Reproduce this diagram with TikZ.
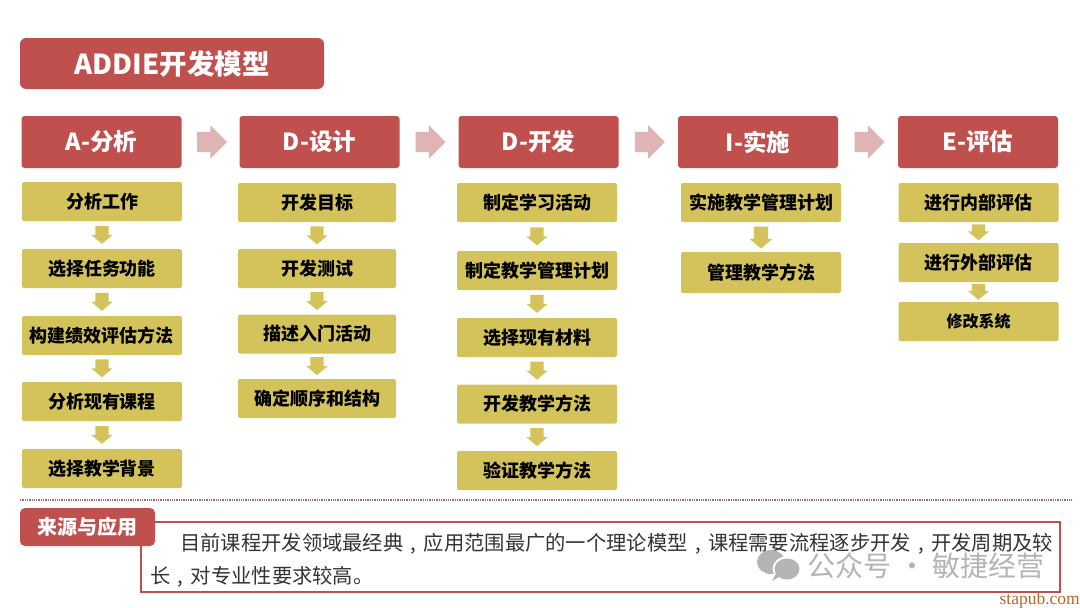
\documentclass[tikz,border=0pt]{standalone}
\usepackage{fontspec}
\setmainfont{Noto Sans CJK SC}
\newfontfamily\serifmark{Liberation Serif}
\usepackage{xcolor}
\usetikzlibrary{arrows.meta,calc,positioning,shapes.arrows}
\definecolor{addieRed}{HTML}{C0504D}
\definecolor{addieYellow}{HTML}{D4C35A}
\definecolor{addiePink}{HTML}{DFB4B5}
\definecolor{markGray}{HTML}{B4B4B4}
\definecolor{siteBrown}{HTML}{B8672A}
\newcommand{\fpx}[1]{\fontsize{#1}{#1}\selectfont}
\newcommand{\zhcomma}{\makebox[1em][c]{,}}
\tikzset{
  titlebox/.style={fill=addieRed,rounded corners=6pt,text=white,font=\fpx{27.5}\bfseries,inner sep=0,minimum width=304,minimum height=51},
  headbox/.style={fill=addieRed,rounded corners=3pt,text=white,font=\fpx{23.5}\bfseries,inner sep=0,minimum width=160,minimum height=52},
  stepbox/.style={fill=addieYellow,rounded corners=2pt,text=black,font=\fpx{18}\bfseries,inner sep=0,minimum width=160,minimum height=39},
  nextarrow/.style={single arrow,fill=addiePink,inner xsep=0,inner ysep=10,minimum width=33,minimum height=30,single arrow head extend=6.5,single arrow tip angle=90},
  downarrow/.style={single arrow,shape border rotate=270,fill=addieYellow,inner ysep=0,inner xsep=6.5,minimum width=21,minimum height=18,single arrow head extend=4,single arrow tip angle=100},
}
\begin{document}
\begin{tikzpicture}[x=1pt,y=-1pt]
\useasboundingbox (0,0) rectangle (1080,608);
\node[titlebox] (title) at (172,63.5) {ADDIE开发模型};
% column heads
\node[headbox] (hA) at (101.5,142) {A-分析};
\node[headbox] (hD) at (319.5,142) {D-设计};
\node[headbox] (hV) at (538.5,142) {D-开发};
\node[headbox] (hI) at (758,142) {I-实施};
\node[headbox] (hE) at (978,142) {E-评估};
\foreach \a/\b in {hA/hD,hD/hV,hV/hI,hI/hE}
  \node[nextarrow] (\a\b) at ($(\a)!0.5!(\b)+(-3.5,0)$) {};
% A
\node[stepbox] (a1) at (102,201.5) {分析工作};
\node[stepbox] (a2) at (102,268.5) {选择任务功能};
\node[stepbox] (a3) at (102,335.5) {构建绩效评估方法};
\node[stepbox] (a4) at (102,401.5) {分析现有课程};
\node[stepbox] (a5) at (102,468.5) {选择教学背景};
\foreach \a/\b in {a1/a2,a2/a3,a3/a4,a4/a5}
  \node[downarrow] (\a\b) at ($(\a)!0.5!(\b)+(0,-3)$) {};
% D
\node[stepbox,minimum width=158] (d1) at (317,202.5) {开发目标};
\node[stepbox,minimum width=158] (d2) at (317,268.5) {开发测试};
\node[stepbox,minimum width=158] (d3) at (317,334) {描述入门活动};
\node[stepbox,minimum width=158] (d4) at (317,398.5) {确定顺序和结构};
\foreach \a/\b in {d1/d2,d2/d3,d3/d4}
  \node[downarrow] (\a\b) at ($(\a)!0.5!(\b)+(0,-3)$) {};
% D
\node[stepbox] (v1) at (537,202.5) {制定学习活动};
\node[stepbox] (v2) at (537,270.5) {制定教学管理计划};
\node[stepbox] (v3) at (537,337.5) {选择现有材料};
\node[stepbox] (v4) at (537,404) {开发教学方法};
\node[stepbox] (v5) at (537,470.5) {验证教学方法};
\foreach \a/\b in {v1/v2,v2/v3,v3/v4,v4/v5}
  \node[downarrow] (\a\b) at ($(\a)!0.5!(\b)+(0,-3)$) {};
% I
\node[stepbox] (i1) at (761,202.5) {实施教学管理计划};
\node[stepbox,minimum height=41] (i2) at (761,272.5) {管理教学方法};
\node[downarrow,minimum width=23,minimum height=22] (i1i2) at ($(i1)!0.5!(i2)+(0,-3)$) {};
% E
\node[stepbox] (e1) at (978.5,202.5) {进行内部评估};
\node[stepbox] (e2) at (978.5,262.5) {进行外部评估};
\node[stepbox,font=\fpx{16}\bfseries] (e3) at (978.5,321.5) {修改系统};
\foreach \a/\b in {e1/e2,e2/e3}
  \node[downarrow,minimum height=16] (\a\b) at ($(\a)!0.5!(\b)+(0,-3)$) {};
% bottom
\coordinate (ruleL) at (20,500);
\coordinate (ruleR) at (1072,500);
\draw[addieRed!55!gray,densely dotted,line width=1.3pt] (ruleL) -- (ruleR);
\node[draw=addieRed,line width=1.2pt,fill=white,inner sep=0,minimum width=919,minimum height=70] (note) at (600.5,557) {};
\node[fill=addieRed,rounded corners=5pt,text=white,font=\fpx{20}\bfseries,inner sep=0,minimum width=135,minimum height=38] (source) at (87.5,527) {来源与应用};
\node[anchor=west,inner sep=0,font=\fpx{20.3},text=black!80] (line1) at (180,544) {目前课程开发领域最经典\zhcomma 应用范围最广的一个理论模型\zhcomma 课程需要流程逐步开发\zhcomma 开发周期及较};
\node[anchor=west,inner sep=0,font=\fpx{20.3},text=black!80] (line2) at (150,577) {长\zhcomma 对专业性要求较高。};
% watermark
\fill[markGray] (771,562) ellipse (14 and 12);
\fill[white] (787,569) ellipse (14.5 and 12.5);
\fill[markGray] (787,569) ellipse (12.5 and 10.5);
\fill[markGray] (778,570) -- (772,581) -- (784,574) -- cycle;
\node[inner sep=0,font=\fpx{28},text=markGray] (mark) at (926,566) {公众号 · 敏捷经营};
\node[anchor=east,inner sep=0,font=\fpx{17.5}\serifmark,text=siteBrown] (site) at (1080,600) {stapub.com};
\end{tikzpicture}
\end{document}
